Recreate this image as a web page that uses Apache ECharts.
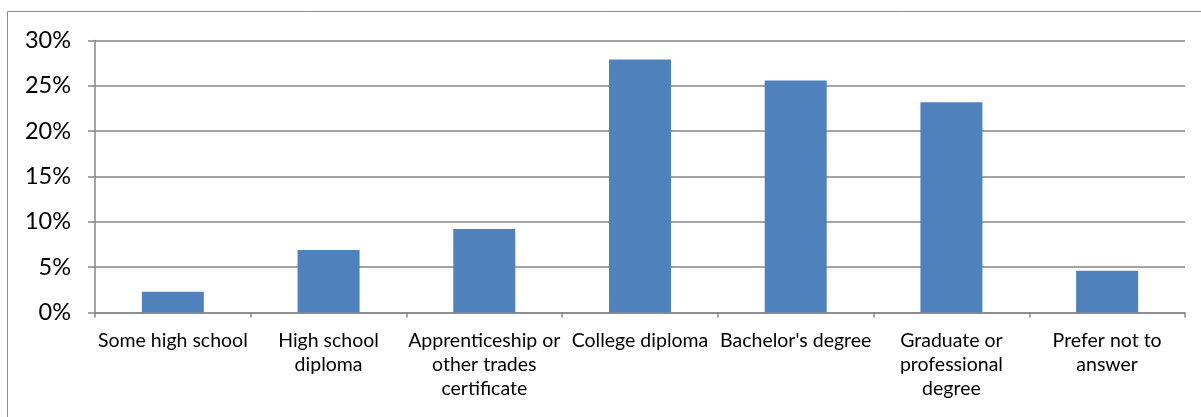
<!DOCTYPE html>
<html>
<head>
<meta charset="utf-8">
<script src="https://cdn.jsdelivr.net/npm/echarts@6/dist/echarts.min.js"></script>
<style>
  html, body { margin: 0; padding: 0; background: #fff; }
  #chart { width: 1201px; height: 417px; }
</style>
</head>
<body>
<div id="chart"></div>
<script>
// Highest level of education completed (share of respondents, %)
const categories = [
  'Some high school',
  'High school\ndiploma',
  'Apprenticeship or\nother trades\ncertificate',
  'College diploma',
  "Bachelor's degree",
  'Graduate or\nprofessional\ndegree',
  'Prefer not to\nanswer'
];
const shares = [2.3, 6.9, 9.2, 27.9, 25.6, 23.2, 4.6];
const yTicks = { min: 0, max: 30, interval: 5 };

const chart = echarts.init(document.getElementById('chart'), null, { renderer: 'canvas' });
const axisGray = '#868686';

chart.setOption({
  animation: false,
  backgroundColor: '#ffffff',
  graphic: [{
    type: 'rect',
    shape: { x: 7.5, y: 11.5, width: 1300, height: 500 },
    style: { fill: 'none', stroke: '#8c8c8c', lineWidth: 1 },
    silent: true
  }],
  grid: { left: 95, right: 16, top: 40.5, bottom: 104.5, containLabel: false },
  xAxis: {
    type: 'category',
    data: categories,
    axisLine: { lineStyle: { color: axisGray, width: 1.5 } },
    axisTick: { show: true, length: 5, alignWithLabel: false, lineStyle: { color: axisGray, width: 1.5 } },
    axisLabel: {
      interval: 0,
      margin: 16,
      color: '#000',
      fontFamily: 'Lato',
      fontSize: 19.5,
      lineHeight: 24
    }
  },
  yAxis: {
    type: 'value',
    min: yTicks.min,
    max: yTicks.max,
    interval: yTicks.interval,
    axisLine: { show: true, lineStyle: { color: axisGray, width: 1.5 } },
    axisTick: { show: true, length: 7, lineStyle: { color: axisGray, width: 1.5 } },
    splitLine: { lineStyle: { color: axisGray, width: 1.5 } },
    axisLabel: {
      formatter: '{value}%',
      margin: 24,
      color: '#000',
      fontFamily: 'Lato',
      fontSize: 23.5
    }
  },
  series: [{
    type: 'bar',
    data: shares,
    barWidth: 62,
    itemStyle: { color: '#4F81BD' }
  }]
});
</script>
</body>
</html>
